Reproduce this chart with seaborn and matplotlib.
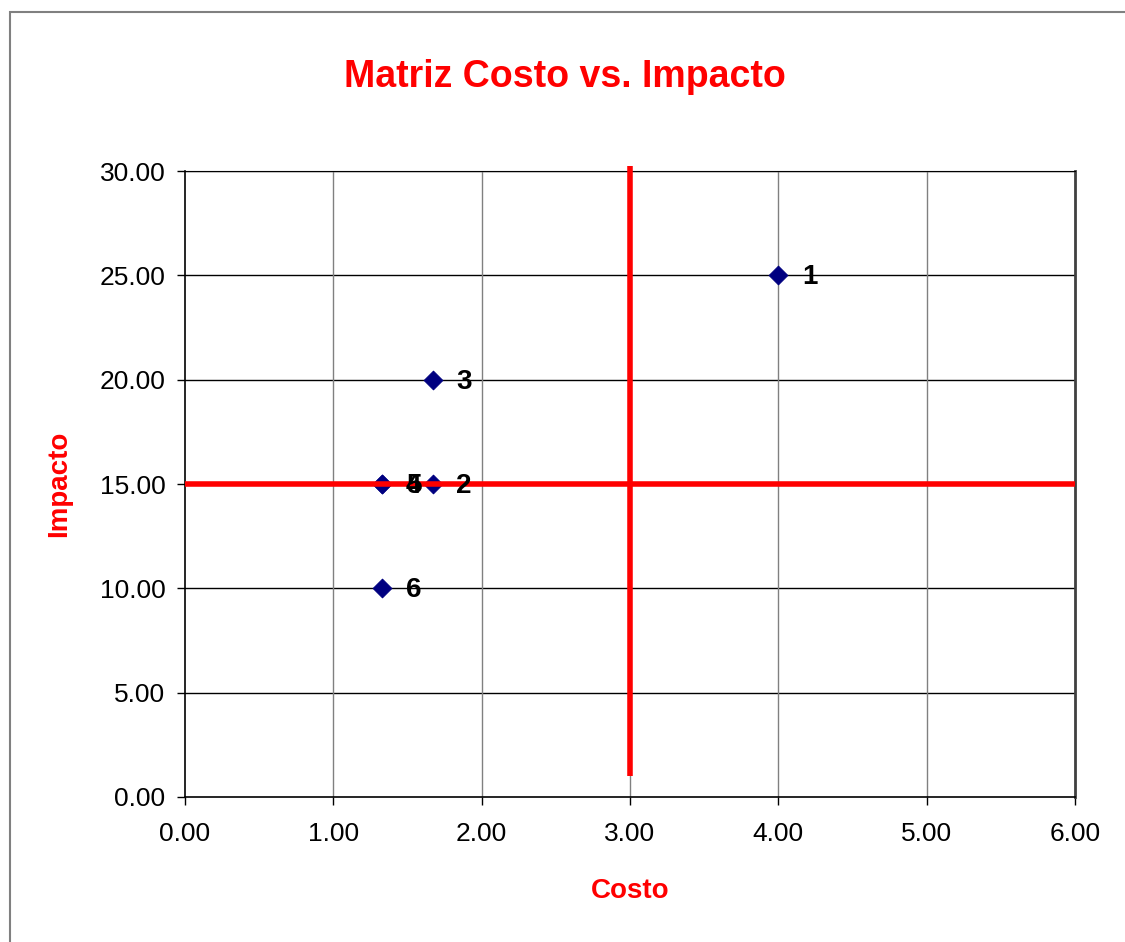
import matplotlib
matplotlib.use("Agg")
import matplotlib.pyplot as plt
import seaborn as sns
import pandas as pd
from matplotlib.patches import Rectangle

# Data
ids = ["1", "2", "3", "4", "5", "6"]
costo = [4.00, 1.67, 1.67, 1.33, 1.33, 1.33]
impacto = [25.00, 15.00, 20.00, 15.00, 15.00, 10.00]
x_ticks = [0, 1, 2, 3, 4, 5, 6]
y_ticks = [0, 5, 10, 15, 20, 25, 30]
vline_x = [3.0, 3.0]
vline_y = [1.0, 30.25]
hline_x = [0.0, 6.0]
hline_y = [15.0, 15.0]

df = pd.DataFrame({"id": ids, "Costo": costo, "Impacto": impacto})

sns.set_style("white")
plt.rcParams["font.family"] = ["Liberation Sans", "DejaVu Sans"]

fig = plt.figure(figsize=(11.25, 9.42), dpi=100)
ax = fig.add_axes([185/1125, 1-797/942, 890/1125, 626/942])

# Outer chart border
fig.patches.append(Rectangle((10/1125, -0.1), 1.2, 1-12/942+0.1, transform=fig.transFigure,
                             fill=False, edgecolor="#808080", linewidth=1.5))

ax.set_xlim(0, 6)
ax.set_ylim(0, 30)
ax.set_xticks(x_ticks)
ax.set_yticks(y_ticks)
ax.set_xticklabels([f"{v:.2f}" for v in x_ticks], fontsize=19, color="black")
ax.set_yticklabels([f"{v:.2f}" for v in y_ticks], fontsize=19, color="black")
ax.tick_params(axis="both", which="major", direction="out", length=6, width=1, color="black",
               bottom=True, left=True, labelcolor="black")
ax.tick_params(axis="x", pad=12)
ax.tick_params(axis="y", pad=8)

for y in y_ticks[1:]:
    ax.axhline(y, color="black", linewidth=1, zorder=1)
for x in x_ticks[1:-1]:
    ax.axvline(x, color="#808080", linewidth=1, zorder=1)

for s in ["left", "bottom"]:
    ax.spines[s].set_color("black")
    ax.spines[s].set_linewidth(1.2)
ax.spines["top"].set_color("black")
ax.spines["right"].set_color("#404040")
ax.spines["right"].set_linewidth(2)

sns.scatterplot(data=df, x="Costo", y="Impacto", marker="D", s=90, color="#000080",
                edgecolor="#000080", ax=ax, zorder=3)

# Quadrant lines
sns.lineplot(x=hline_x, y=hline_y, color="red", linewidth=4, ax=ax, zorder=4)
ax.plot(vline_x, vline_y, color="red", linewidth=4, zorder=4, clip_on=False, solid_capstyle="butt")

for _, r in df.iterrows():
    ax.annotate(r["id"], (r["Costo"], r["Impacto"]), xytext=(17, -1.5), textcoords="offset points",
                fontsize=20, fontweight="bold", ha="left", va="center", color="black", zorder=5)

ax.set_xlabel("Costo", fontsize=20, fontweight="bold", color="red", labelpad=23)
ax.set_ylabel("Impacto", fontsize=20, fontweight="bold", color="red", labelpad=20)
fig.text(565/1125, 1-77/942, "Matriz Costo vs. Impacto", fontsize=27, fontweight="bold",
         color="red", ha="center", va="center")

fig.savefig("out.png", dpi=100, facecolor="white")
